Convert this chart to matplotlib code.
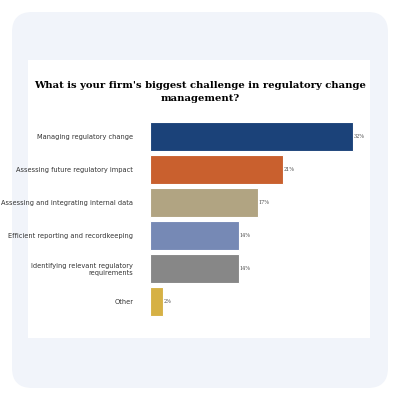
import matplotlib.pyplot as plt
from matplotlib.patches import FancyBboxPatch, Rectangle

categories = ['Managing regulatory change', 'Assessing future regulatory impact',
              'Assessing and integrating internal data', 'Efficient reporting and recordkeeping',
              'Identifying relevant regulatory\nrequirements', 'Other']
values = [32, 21, 17, 14, 14, 2]
colors = ['#1b4279', '#c9602e', '#b1a482', '#7689b5', '#878787', '#d6b145']

fig = plt.figure(figsize=(4, 4), dpi=100)
fig.patch.set_facecolor('white')
fig.add_artist(FancyBboxPatch((0.03, 0.03), 0.94, 0.94, boxstyle='round,pad=0,rounding_size=0.05',
                              transform=fig.transFigure, facecolor='#f1f4fa', edgecolor='none', zorder=-2))
fig.add_artist(Rectangle((0.07, 0.155), 0.855, 0.695, transform=fig.transFigure,
                         facecolor='white', edgecolor='none', zorder=-1))

fig.text(0.5, 0.77, "What is your firm's biggest challenge in regulatory change\nmanagement?",
         ha='center', va='center', fontsize=7.2, fontweight='bold', family='DejaVu Serif',
         linespacing=1.5)

ax = fig.add_axes([0.375, 0.205, 0.555, 0.495])
ax.set_zorder(2)
ax.set_facecolor('none')
y = range(len(categories))
ax.barh(y, values, height=0.9, color=colors, edgecolor='white', linewidth=0.8)
for i, v in enumerate(values):
    ax.text(v + 0.1, i, f'{v}%', va='center', ha='left', fontsize=3.5, color='#444444',
            family='DejaVu Serif')
ax.set_yticks(list(y))
ax.set_yticklabels(categories, fontsize=4.8, color='#333333')
ax.set_xlim(0, 35)
ax.set_ylim(len(categories) - 0.5, -0.5)
ax.set_xticks([])
ax.tick_params(axis='y', length=0, pad=12)
for s in ax.spines.values():
    s.set_visible(False)

fig.savefig('out.png', dpi=100)
